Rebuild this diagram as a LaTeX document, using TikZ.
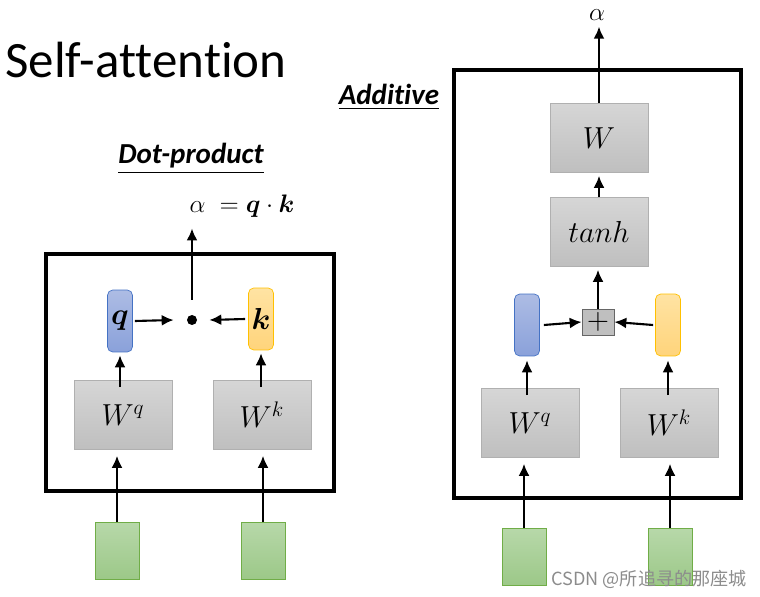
\documentclass[tikz,border=0pt]{standalone}
\usepackage{amsmath}
\usepackage{fontspec}
\setmainfont[Ligatures=NoCommon]{Carlito}
\newfontfamily\cjk{Noto Sans CJK SC}
\usetikzlibrary{arrows.meta, positioning, calc}
\definecolor{projtop}{HTML}{D6D6D6}
\definecolor{projbot}{HTML}{BFBFBF}
\definecolor{projline}{HTML}{B0B0B0}
\definecolor{qtop}{HTML}{ADBCE4}
\definecolor{qbot}{HTML}{8AA1DA}
\definecolor{qline}{HTML}{4472C4}
\definecolor{ktop}{HTML}{FFE3A3}
\definecolor{kbot}{HTML}{FFD47B}
\definecolor{kline}{HTML}{FFC000}
\definecolor{intop}{HTML}{B7D8A9}
\definecolor{inbot}{HTML}{9CC888}
\definecolor{inline}{HTML}{70AD47}

\begin{document}
\begin{tikzpicture}[
        x=0.02cm, y=-0.02cm,
        font=\fontsize{17}{19}\selectfont,
        proj/.style={
            rectangle,
            draw=projline,
            top color=projtop,
            bottom color=projbot,
            minimum width=1.96cm,
            minimum height=1.38cm,
            inner sep=0pt
        },
        vecq/.style={
            rectangle,
            rounded corners=3pt,
            draw=qline,
            top color=qtop,
            bottom color=qbot,
            minimum width=0.5cm,
            minimum height=1.24cm,
            inner sep=0pt
        },
        veck/.style={
            vecq,
            draw=kline,
            top color=ktop,
            bottom color=kbot
        },
        inp/.style={
            rectangle,
            draw=inline,
            top color=intop,
            bottom color=inbot,
            minimum width=0.88cm,
            minimum height=1.14cm,
            inner sep=0pt
        },
        heading/.style={
            font=\fontsize{16.5}{19}\selectfont\bfseries\itshape
        },
        frame/.style={draw=black, line width=2.3pt},
        link/.style={-{Latex[length=2.4mm,width=2.2mm]}, line width=1.2pt}
    ]

    \useasboundingbox (0,0) rectangle (760,597);

    % Title
    \node[anchor=base west, font=\fontsize{29}{32}\selectfont, inner sep=0pt] (title) at (5,78) {Self-attention};

    % Dot-product
    \node[heading] (dphead) at (191,159) {\underline{Dot-product}};
    \draw[frame] (46,254) rectangle (334,491);

    \node[inp] (in1) at (117,551) {};
    \node[inp] (in2) at (263,551) {};
    \node[proj] (wq1) at (123,415) {$W^q$};
    \node[proj] (wk1) at (262,415) {$W^k$};
    \node[vecq] (vq1) at (120,321) {$\boldsymbol{q}$};
    \node[veck] (vk1) at (261,319) {$\boldsymbol{k}$};
    \node[circle, fill=black, minimum size=0.2cm, inner sep=0pt] (dot) at (192,320) {};
    \node[font=\fontsize{15}{17}\selectfont] (res) at (242,206) {$\alpha\;=\boldsymbol{q}\cdot\boldsymbol{k}$};

    \draw[link] (in1.north) -- ([yshift=-0.12cm]in1.north |- wq1.south);
    \draw[link] (in2.north) -- ([yshift=-0.12cm]in2.north |- wk1.south);
    \draw[link] ([yshift=-0.14cm]vq1.south |- wq1.north) -- ([yshift=-0.06cm]vq1.south);
    \draw[link] ([yshift=-0.14cm]vk1.south |- wk1.north) -- ([yshift=-0.06cm]vk1.south);
    \draw[link] ([xshift=0.04cm]vq1.east) -- ([xshift=-0.26cm]dot.west);
    \draw[link] ([xshift=-0.06cm]vk1.west) -- ([xshift=0.24cm]dot.east);
    \draw[link] ([yshift=0.3cm]dot.north) -- ([yshift=-0.1cm]dot |- res.south);

    % Additive
    \node[heading] (adhead) at (389,97) {\underline{Additive}};
    \draw[frame] (454,70) rectangle (741,498);

    \node[inp] (in3) at (524,557) {};
    \node[inp] (in4) at (670,557) {};
    \node[proj] (wq2) at (530,423) {$W^q$};
    \node[proj] (wk2) at (669,423) {$W^k$};
    \node[vecq] (vq2) at (527,325) {};
    \node[veck] (vk2) at (668,325) {};
    \node[rectangle, draw=black!60, fill=projbot, minimum width=0.64cm, minimum height=0.52cm, inner sep=0pt] (plus) at (598,322) {$+$};
    \node[proj] (tanh) at (599,232) {$tanh$};
    \node[proj] (wout) at (599,138) {$W$};
    \node[font=\fontsize{15}{17}\selectfont] (alpha) at (597,15) {$\alpha$};

    \draw[link] (in3.north) -- ([yshift=-0.12cm]in3.north |- wq2.south);
    \draw[link] (in4.north) -- ([yshift=-0.12cm]in4.north |- wk2.south);
    \draw[link] ([yshift=-0.14cm]vq2.south |- wq2.north) -- ([yshift=-0.08cm]vq2.south);
    \draw[link] ([yshift=-0.14cm]vk2.south |- wk2.north) -- ([yshift=-0.08cm]vk2.south);
    \draw[link] ([xshift=0.08cm]vq2.east) -- (plus.west);
    \draw[link] ([xshift=-0.04cm]vk2.west) -- (plus.east);
    \draw[link] (plus.north) -- ([yshift=-0.06cm]plus.north |- tanh.south);
    \draw[link] (tanh.north) -- ([yshift=-0.06cm]tanh.north |- wout.south);
    \draw[link] (wout.north) -- (wout.north |- alpha.south);

    % Watermark
    \node[font=\cjk\fontsize{10.3}{12}\selectfont, text=black!45] (mark) at (649,579) {CSDN @所追寻的那座城};

\end{tikzpicture}
\end{document}
